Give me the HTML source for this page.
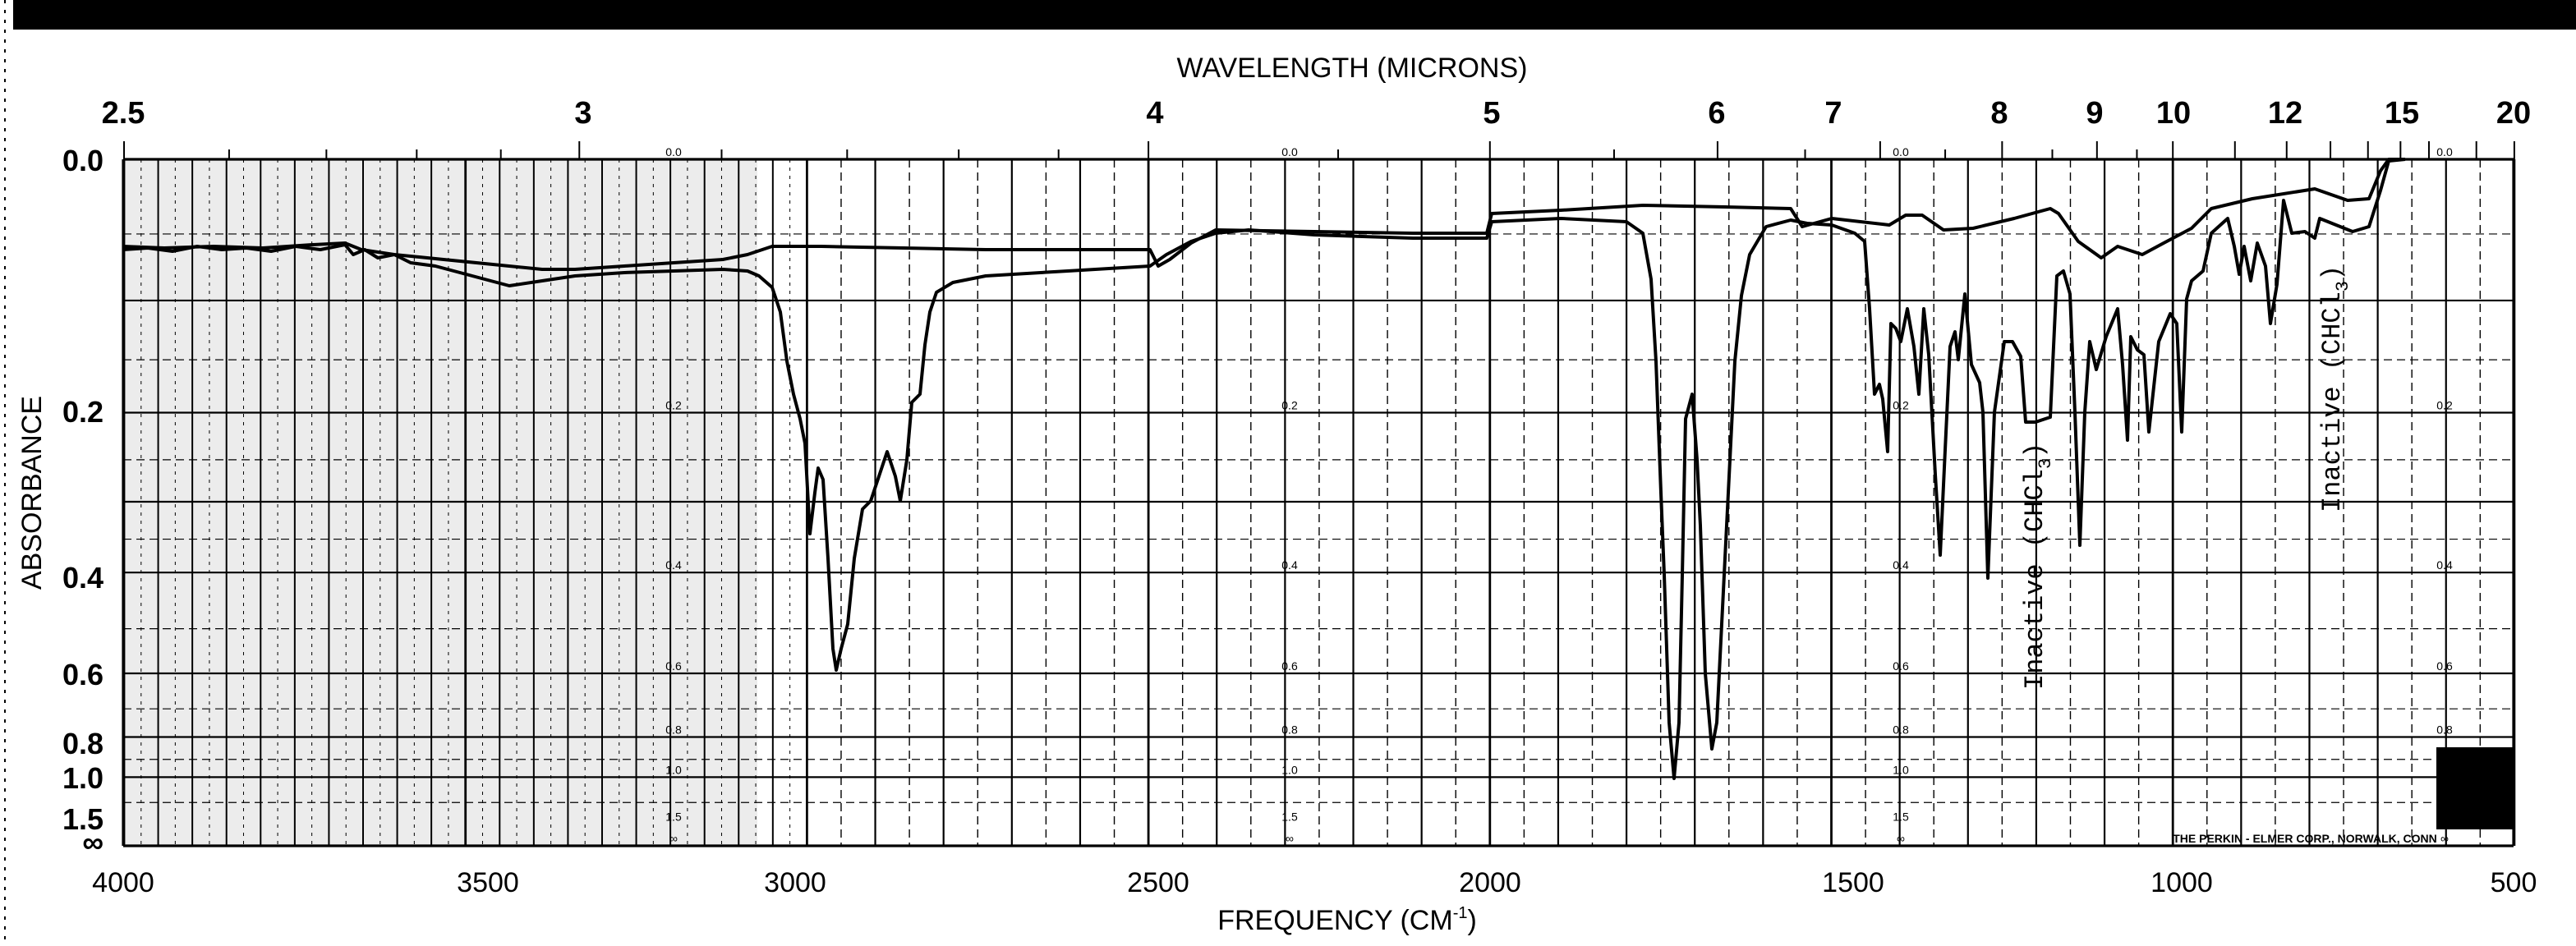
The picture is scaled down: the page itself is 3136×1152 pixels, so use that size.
<!DOCTYPE html>
<html><head><style>html,body{margin:0;padding:0;background:#fff}svg{display:block}</style></head>
<body>
<svg id="s" xmlns="http://www.w3.org/2000/svg" width="3136" height="1152" viewBox="0 0 1568 576" font-family="'Liberation Sans',sans-serif">
<rect width="1568" height="576" fill="#fff"/>
<rect x="8" y="0" width="1560" height="18" fill="#000"/>
<line x1="3" y1="0" x2="3" y2="576" stroke="#000" stroke-width="1" stroke-dasharray="2,4"/>
<rect x="76" y="97" width="385" height="418" fill="#ececec"/>
<g id="grid"></g>
<text x="823" y="47" font-size="17" text-anchor="middle">WAVELENGTH (MICRONS)</text>
<g font-size="19" font-weight="bold" text-anchor="middle">
<text x="75" y="75">2.5</text><text x="355" y="75">3</text><text x="703" y="75">4</text><text x="908" y="75">5</text><text x="1045" y="75">6</text><text x="1116" y="75">7</text><text x="1217" y="75">8</text><text x="1275" y="75">9</text><text x="1323" y="75">10</text><text x="1391" y="75">12</text><text x="1462" y="75">15</text><text x="1530" y="75">20</text>
</g>
<g font-size="18" font-weight="bold" text-anchor="end">
<text x="63" y="104">0.0</text><text x="63" y="257">0.2</text><text x="63" y="358">0.4</text><text x="63" y="417">0.6</text><text x="63" y="459">0.8</text><text x="63" y="480">1.0</text><text x="63" y="505">1.5</text><text x="63" y="519">∞</text>
</g>
<text transform="translate(25,300) rotate(-90)" font-size="17" text-anchor="middle">ABSORBANCE</text>
<g font-size="17" text-anchor="middle">
<text x="75" y="543">4000</text><text x="297" y="543">3500</text><text x="484" y="543">3000</text><text x="705" y="543">2500</text><text x="907" y="543">2000</text><text x="1128" y="543">1500</text><text x="1328" y="543">1000</text><text x="1530" y="543">500</text>
</g>
<text x="820" y="566" font-size="17" text-anchor="middle">FREQUENCY (CM<tspan font-size="10" dy="-7">-1</tspan><tspan dy="7">)</tspan></text>
<g id="inner" font-size="7" text-anchor="middle"></g>
<rect x="1483" y="455" width="47" height="50" fill="#000"/>
<text x="1403" y="513" font-size="7" font-weight="bold" text-anchor="middle">THE PERKIN - ELMER CORP., NORWALK, CONN</text>
<g font-family="'Liberation Mono',monospace" font-size="16" fill="#000">
<text transform="translate(1243,420) rotate(-90)">Inactive (CHCl<tspan font-size="11" dy="5">3</tspan><tspan dy="-5">)</tspan></text>
<text transform="translate(1424,312) rotate(-90)">Inactive (CHCl<tspan font-size="11" dy="5">3</tspan><tspan dy="-5">)</tspan></text>
</g>
<polyline fill="none" stroke="#000" stroke-width="2" stroke-linejoin="round" points="
75,152 90,151 105,153 120,150 135,152 150,151 165,153 180,150 195,152 210,149 215,155 222,152 230,157 240,155 250,160 265,162 280,166 295,170 310,174 330,171 350,168 380,166 410,165 440,164 455,165 462,168 470,175 475,190 479,220 483,240 487,255 490,270 493,325 496,300 498,285 501,292 504,340 507,395 509,408 512,395 516,380 520,340 525,310 530,305 535,290 540,275 545,290 548,305 552,280 555,245 560,240 563,210 566,190 570,178 580,172 600,168 650,165 700,162 710,155 725,147 740,142 760,140 800,143 860,145 905,145 908,135 950,133 990,135 1000,142 1005,170 1008,220 1011,300 1013,350 1016,440 1019,474 1022,440 1024,350 1026,255 1030,240 1033,280 1035,320 1038,410 1042,456 1045,440 1048,380 1052,300 1056,220 1060,180 1065,155 1075,138 1090,134 1100,136 1115,137 1129,142 1135,147 1138,188 1141,240 1144,234 1146,243 1149,275 1151,197 1154,200 1157,208 1161,188 1165,211 1168,240 1171,188 1174,216 1178,289 1181,338 1184,274 1187,211 1190,202 1192,219 1196,179 1200,222 1205,233 1207,251 1210,352 1214,251 1220,208 1225,208 1230,217 1233,257 1239,257 1248,254 1252,168 1256,165 1260,179 1263,251 1266,332 1269,251 1272,208 1276,225 1282,205 1289,188 1292,222 1295,268 1297,205 1301,213 1305,216 1308,263 1314,208 1321,191 1325,197 1328,263 1331,182 1334,171 1341,165 1346,142 1356,133 1360,150 1363,167 1366,150 1370,171 1374,148 1379,162 1382,197 1386,173 1390,122 1395,142 1403,141 1409,145 1412,133 1432,141 1442,138 1449,116 1454,98 1464,97"/>
<polyline fill="none" stroke="#000" stroke-width="2" stroke-linejoin="round" points="
75,150 100,151 130,150 160,151 190,149 210,148 220,152 240,155 270,158 300,161 330,164 350,164 380,162 410,160 440,158 455,155 470,150 500,150 550,151 600,152 650,152 700,152 705,162 712,158 725,148 740,140 800,141 860,142 905,142 908,130 950,128 1000,125 1050,126 1090,127 1097,138 1115,133 1150,137 1160,131 1170,131 1183,140 1201,139 1226,133 1248,127 1253,130 1265,147 1279,157 1289,150 1304,155 1317,148 1334,139 1346,127 1371,121 1409,115 1429,122 1442,121 1449,104 1454,97 1464,97"/>
</svg>
<script>
(function(){
var ns="http://www.w3.org/2000/svg",g=document.getElementById('grid');
function L(x1,y1,x2,y2,w,d){var l=document.createElementNS(ns,'line');l.setAttribute('x1',x1);l.setAttribute('y1',y1);l.setAttribute('x2',x2);l.setAttribute('y2',y2);l.setAttribute('stroke','#000');l.setAttribute('stroke-width',w);if(d)l.setAttribute('stroke-dasharray',d);g.appendChild(l);}
function X(f){return 75.5+(4000-f)*0.4157;}
function Y(T){return 97+(1-T)*418;}
function YA(a){return Y(Math.pow(10,-a));}
for(var f=4000;f>=500;f-=50){var x=X(f);
 if(f>=3000){L(x,97,x,515,f%500==0?1.4:1);}
 else if(f%100==0){L(x,97,x,515,f%500==0?1.4:1.1);}
 else L(x,97,x,515,0.7,'5,3');}
for(var f=3975;f>3000;f-=50){var x=X(f);L(x,97,x,515,0.5,'2,3');}
[0,0.1,0.2,0.3,0.4,0.6,0.8,1.0].forEach(function(a){L(75,YA(a),1530,YA(a),a==0?1.6:1.1);});
[0.05,0.15,0.25,0.35,0.5,0.7,0.9,1.2].forEach(function(a){L(75,YA(a),1530,YA(a),0.6,'5,3');});
L(75,515,1530,515,1.6);
L(75,97,75,515,1.6);L(1530,97,1530,515,1.6);
var mic=[2.5,2.6,2.7,2.8,2.9,3,3.2,3.4,3.6,3.8,4,4.5,5,5.5,6,6.5,7,7.5,8,8.5,9,9.5,10,11,12,13,14,15,16,18,20];
mic.forEach(function(m){var x=X(10000/m);L(x,Math.round(m)==m||m==2.5?86:91,x,97,1);});
var inn=document.getElementById('inner'),vals=[['0.0',1],['0.2',Math.pow(10,-0.2)],['0.4',Math.pow(10,-0.4)],['0.6',Math.pow(10,-0.6)],['0.8',Math.pow(10,-0.8)],['1.0',0.1],['1.5',Math.pow(10,-1.5)],['∞',0]];
[410,785,1157,1488].forEach(function(x){vals.forEach(function(v){var t=document.createElementNS(ns,'text');t.setAttribute('x',x);t.setAttribute('y',Y(v[1])-2);t.textContent=v[0];inn.appendChild(t);});});
})();
</script>
</body></html>
